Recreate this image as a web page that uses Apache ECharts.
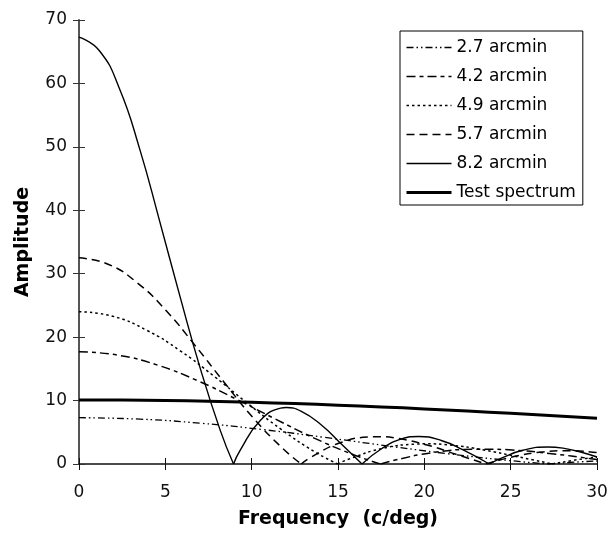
<!DOCTYPE html>
<html>
<head>
<meta charset="utf-8">
<script src="https://cdn.jsdelivr.net/npm/echarts@6/dist/echarts.min.js"></script>
<style>
  html, body { margin: 0; padding: 0; background: #fff; }
  #chart { width: 611px; height: 539px; }
</style>
</head>
<body>
<div id="chart"></div>
<script>
// [frequency c/deg, amplitude], zeros are the cusps
const curve27 = [[0, 7.3], [3.55, 7.07], [7.09, 6.42], [10.64, 5.43], [14.19, 4.21], [17.74, 2.9], [21.28, 1.65], [24.83, 0.57], [27.18, 0], [28.38, 0.24], [30, 0.47]];
const curve42 = [[0, 17.7], [2.28, 17.15], [4.56, 15.58], [6.84, 13.17], [9.12, 10.21], [11.41, 7.04], [13.69, 4.0], [15.97, 1.39], [17.48, 0], [18.25, 0.58], [20.53, 1.82], [22.81, 2.32], [23.43, 2.34], [25.09, 2.2], [27.37, 1.63], [29.65, 0.84], [30, 0.72]];
const curve49 = [[0, 24.0], [1.95, 23.3], [3.91, 21.1], [5.86, 17.85], [7.82, 13.84], [9.77, 9.54], [11.73, 5.42], [13.68, 1.88], [14.98, 0], [15.64, 0.79], [17.59, 2.46], [19.55, 3.14], [20.08, 3.18], [21.5, 2.98], [23.45, 2.21], [25.41, 1.14], [27.42, 0], [29.32, 0.87], [30, 1.06]];
const curve57 = [[0, 32.5], [1.68, 31.5], [3.36, 28.6], [5.04, 24.2], [6.72, 18.7], [8.4, 12.9], [10.08, 7.3], [11.76, 2.55], [12.87, 0], [13.44, 1.07], [15.12, 3.34], [16.8, 4.26], [17.25, 4.3], [18.47, 4.03], [20.15, 3.0], [21.83, 1.54], [23.57, 0], [25.19, 1.17], [26.87, 1.91], [28.27, 2.1], [30, 1.82]];
const curve82 = [[0, 67.3], [1.17, 65.2], [2.34, 59.2], [3.5, 49.8], [4.67, 38.3], [5.84, 26.5], [7.01, 15.2], [8.18, 5.3], [8.95, 0], [9.34, 2.2], [10.51, 6.9], [11.68, 8.8], [12.0, 8.9], [12.85, 8.35], [14.02, 6.2], [15.18, 3.2], [16.39, 0], [17.52, 2.4], [18.69, 3.95], [19.66, 4.34], [21.02, 3.67], [22.19, 2.29], [23.76, 0], [24.53, 1.0], [25.7, 2.16], [27.14, 2.69], [28.03, 2.5], [29.2, 1.78], [30, 1.1]];

const testFreq = [0, 2.5, 5, 7.5, 10, 12.5, 15, 17.5, 20, 22.5, 25, 27.5, 30];
const testAmp = [10.1, 10.08, 10.01, 9.89, 9.73, 9.52, 9.28, 9.0, 8.69, 8.35, 7.99, 7.61, 7.22];

const legendNames = ['2.7 arcmin', '4.2 arcmin', '4.9 arcmin', '5.7 arcmin', '8.2 arcmin', 'Test spectrum'];

const FONT = 'DejaVu Sans';

// split a curve at its interior zeros so each lobe is smoothed on its own (keeps the cusps sharp)
const lobes = (points) => {
    const parts = [[]];
    points.forEach((p, i) => {
        parts[parts.length - 1].push(p);
        if (p[1] === 0 && i > 0 && i < points.length - 1) parts.push([p]);
    });
    return parts;
};

const curves = [
    { name: legendNames[0], data: curve27, line: { width: 1.3, type: [7, 3, 1.5, 3, 1.5, 3] } },
    { name: legendNames[1], data: curve42, line: { width: 1.5, type: [9, 4, 4, 4] } },
    { name: legendNames[2], data: curve49, line: { width: 1.5, type: [2.5, 3] } },
    { name: legendNames[3], data: curve57, line: { width: 1.5, type: [8, 5] } },
    { name: legendNames[4], data: curve82, line: { width: 1.4, type: 'solid' } },
];

const series = [];
curves.forEach(c => {
    lobes(c.data).forEach(seg => {
        series.push({
            type: 'line',
            name: c.name,
            data: seg,
            symbol: 'none',
            smooth: 0.5,
            color: '#000',
            lineStyle: Object.assign({ color: '#000' }, c.line),
            animation: false
        });
    });
});

series.push({
    type: 'line',
    name: legendNames[5],
    data: testFreq.map((f, i) => [f, testAmp[i]]),
    symbol: 'none',
    smooth: 0.5,
    color: '#000',
    lineStyle: { color: '#000', width: 3 },
    animation: false
});

const legendData = legendNames.map((name, i) => {
    const c = curves[i];
    return { name, lineStyle: c ? Object.assign({ color: '#000' }, c.line) : { color: '#000', width: 3, type: 'solid' } };
});

const axisLabelStyle = { fontFamily: FONT, fontSize: 17, color: '#111' };

const option = {
    backgroundColor: '#fff',
    grid: { left: 79, right: 14, top: 20, bottom: 75, containLabel: false },
    legend: {
        data: legendData,
        orient: 'vertical',
        left: 400,
        top: 31,
        padding: [8, 7, 4, 5],
        itemGap: 12,
        itemWidth: 45,
        itemHeight: 14,
        itemStyle: { opacity: 0, borderWidth: 0 },
        borderColor: '#000',
        borderWidth: 1,
        borderRadius: 0,
        backgroundColor: '#fff',
        textStyle: { fontFamily: FONT, fontSize: 17, color: '#000' }
    },
    xAxis: [{
        type: 'value',
        min: 0,
        max: 30,
        interval: 5,
        name: 'Frequency  (c/deg)',
        nameLocation: 'middle',
        nameGap: 46,
        nameTextStyle: { fontFamily: FONT, fontSize: 19, fontWeight: 'bold', color: '#000' },
        axisLine: { lineStyle: { color: '#111', width: 1.5 } },
        axisTick: { length: 6, lineStyle: { color: '#111' } },
        axisLabel: Object.assign({ margin: 20 }, axisLabelStyle),
        splitLine: { show: false }
    }, {
        type: 'value',
        min: 0,
        max: 30,
        interval: 5,
        position: 'bottom',
        axisLine: { show: false },
        axisTick: { inside: true, length: 6, lineStyle: { color: '#111' } },
        axisLabel: { show: false },
        splitLine: { show: false }
    }],
    yAxis: [{
        type: 'value',
        min: 0,
        max: 70,
        interval: 10,
        name: 'Amplitude',
        nameLocation: 'middle',
        nameGap: 46,
        nameTextStyle: { fontFamily: FONT, fontSize: 19, fontWeight: 'bold', color: '#000' },
        axisLine: { lineStyle: { color: '#555', width: 2 } },
        axisTick: { length: 6, lineStyle: { color: '#333' } },
        axisLabel: Object.assign({ margin: 12 }, axisLabelStyle),
        splitLine: { show: false }
    }, {
        type: 'value',
        min: 0,
        max: 70,
        interval: 10,
        position: 'left',
        axisLine: { show: false },
        axisTick: { inside: true, length: 6, lineStyle: { color: '#333' } },
        axisLabel: { show: false },
        splitLine: { show: false }
    }],
    series
};

const myChart = echarts.init(document.querySelector('#chart'));
myChart.setOption(option);
</script>
</body>
</html>
